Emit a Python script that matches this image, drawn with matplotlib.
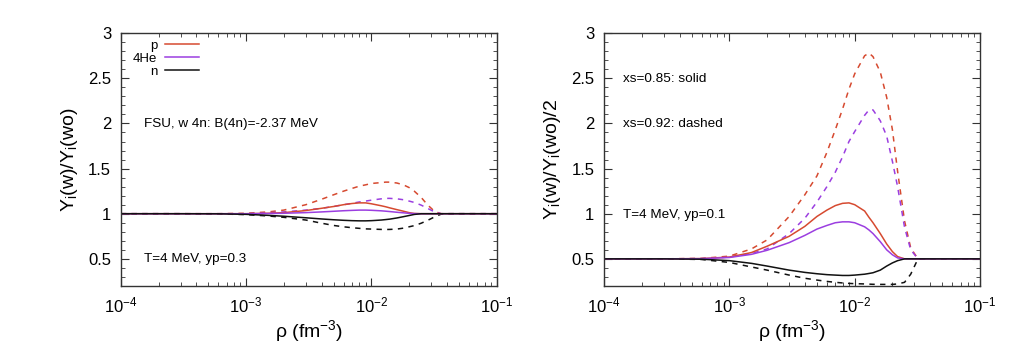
import matplotlib
matplotlib.use("Agg")
import matplotlib.pyplot as plt
from matplotlib.ticker import AutoMinorLocator, LogLocator, NullFormatter

plt.rcParams["font.family"] = ["Liberation Sans", "DejaVu Sans"]
plt.rcParams["mathtext.default"] = "regular"

# density grid (fm^-3)
rho = [1e-4, 3e-4, 6e-4, 1e-3, 1.5e-3, 2e-3, 3e-3, 4e-3, 5e-3, 6e-3, 7e-3,
       8e-3, 9e-3, 1e-2, 1.2e-2, 1.3e-2, 1.4e-2, 1.6e-2, 1.8e-2, 2e-2,
       2.2e-2, 2.5e-2, 2.8e-2, 3.2e-2, 3.6e-2, 4e-2, 5e-2, 1e-1]

# left panel: T=4 MeV, yp=0.3
left_p_solid = [1, 1, 1, 1.0, 1.005, 1.012, 1.035, 1.06, 1.08, 1.10, 1.113,
                1.12, 1.12, 1.11, 1.088, 1.077, 1.065, 1.045, 1.028, 1.012,
                1.003, 1, 1, 1, 1, 1, 1, 1]
left_he_solid = [1, 1, 1, 1.0, 1.002, 1.005, 1.012, 1.02, 1.027, 1.033, 1.037,
                 1.04, 1.04, 1.038, 1.032, 1.028, 1.024, 1.016, 1.01, 1.004,
                 1.001, 1, 1, 1, 1, 1, 1, 1]
left_n_solid = [1, 1, 0.999, 0.993, 0.982, 0.972, 0.955, 0.942, 0.933, 0.927,
                0.923, 0.921, 0.921, 0.923, 0.93, 0.935, 0.94, 0.953, 0.967,
                0.98, 0.992, 1, 1, 1, 1, 1, 1, 1]
left_p_dash = [1, 1, 1, 1.005, 1.02, 1.04, 1.10, 1.16, 1.21, 1.25, 1.28, 1.305,
               1.32, 1.335, 1.345, 1.35, 1.35, 1.34, 1.32, 1.29, 1.25, 1.18,
               1.10, 1.025, 1.0, 1, 1, 1]
left_he_dash = [1, 1, 1, 1.0, 1.01, 1.02, 1.04, 1.06, 1.08, 1.10, 1.115, 1.13,
                1.14, 1.15, 1.165, 1.17, 1.17, 1.165, 1.155, 1.14, 1.125,
                1.095, 1.06, 1.02, 1.0, 1, 1, 1]
left_n_dash = [1, 1, 0.998, 0.99, 0.975, 0.96, 0.93, 0.895, 0.87, 0.855, 0.845,
               0.838, 0.832, 0.83, 0.826, 0.825, 0.826, 0.83, 0.84, 0.855,
               0.868, 0.895, 0.925, 0.965, 0.995, 1, 1, 1]

# right panel: T=4 MeV, yp=0.1 (ratio / 2)
right_p_solid = [0.5, 0.5, 0.503, 0.52, 0.57, 0.64, 0.75, 0.86, 0.97, 1.04,
                 1.09, 1.115, 1.12, 1.10, 1.03, 0.96, 0.90, 0.78, 0.665, 0.58,
                 0.525, 0.5, 0.5, 0.5, 0.5, 0.5, 0.5, 0.5]
right_he_solid = [0.5, 0.5, 0.502, 0.515, 0.55, 0.595, 0.68, 0.76, 0.83, 0.87,
                  0.90, 0.91, 0.91, 0.90, 0.855, 0.82, 0.78, 0.69, 0.60, 0.545,
                  0.51, 0.5, 0.5, 0.5, 0.5, 0.5, 0.5, 0.5]
right_n_solid = [0.5, 0.5, 0.496, 0.48, 0.45, 0.42, 0.375, 0.35, 0.335, 0.325,
                 0.32, 0.316, 0.316, 0.32, 0.33, 0.338, 0.346, 0.375, 0.42,
                 0.455, 0.48, 0.5, 0.5, 0.5, 0.5, 0.5, 0.5, 0.5]
right_p_dash = [0.5, 0.5, 0.505, 0.53, 0.61, 0.71, 0.97, 1.21, 1.42, 1.68, 1.93,
                2.16, 2.38, 2.55, 2.75, 2.78, 2.74, 2.57, 2.29, 1.93, 1.47,
                0.92, 0.62, 0.5, 0.5, 0.5, 0.5, 0.5]
right_he_dash = [0.5, 0.5, 0.503, 0.52, 0.56, 0.61, 0.78, 0.95, 1.13, 1.30,
                 1.46, 1.63, 1.80, 1.91, 2.09, 2.15, 2.15, 2.03, 1.86, 1.58,
                 1.30, 0.85, 0.60, 0.5, 0.5, 0.5, 0.5, 0.5]
right_n_dash = [0.5, 0.5, 0.493, 0.46, 0.41, 0.375, 0.32, 0.285, 0.265, 0.25,
                0.24, 0.233, 0.228, 0.225, 0.222, 0.22, 0.218, 0.217, 0.217,
                0.217, 0.222, 0.24, 0.33, 0.5, 0.5, 0.5, 0.5, 0.5]

species = ["p", "4He", "n"]
colors = ["#d64a30", "#9b3ee0", "#111111"]

fig = plt.figure(figsize=(10.24, 3.53), dpi=100)
ax1 = fig.add_axes([0.118, 0.190, 0.367, 0.716])
ax2 = fig.add_axes([0.590, 0.190, 0.367, 0.716])

panels = [
    (ax1, [left_p_solid, left_he_solid, left_n_solid],
     [left_p_dash, left_he_dash, left_n_dash]),
    (ax2, [right_p_solid, right_he_solid, right_n_solid],
     [right_p_dash, right_he_dash, right_n_dash]),
]

for ax, solids, dashes in panels:
    for vals, c in zip(dashes, colors):
        ax.plot(rho, vals, color=c, lw=1.1, dashes=(3.5, 3.5))
    for vals, c, name in zip(solids, colors, species):
        ax.plot(rho, vals, color=c, lw=1.1, label=name)

    ax.set_xscale("log")
    ax.set_xlim(1e-4, 1e-1)
    ax.set_ylim(0.2, 3)
    ax.set_yticks([0.5, 1, 1.5, 2, 2.5, 3])
    ax.set_yticklabels(["0.5", "1", "1.5", "2", "2.5", "3"])
    ax.yaxis.set_minor_locator(AutoMinorLocator(5))
    ax.xaxis.set_minor_locator(LogLocator(base=10, subs=range(2, 10)))
    ax.xaxis.set_minor_formatter(NullFormatter())
    ax.tick_params(which="both", direction="in", top=True, right=True,
                   labelsize=12, color="#333333")
    ax.tick_params(which="major", length=6, width=0.8, pad=7)
    ax.tick_params(which="minor", length=3, width=0.6)
    for s in ax.spines.values():
        s.set_linewidth(1.0)
        s.set_color("#333333")
    ax.set_xlabel(r"ρ (fm$^{-3}$)", fontsize=14, labelpad=2)

ax1.set_ylabel(r"Y$_i$(w)/Y$_i$(wo)", fontsize=14, labelpad=6)
ax2.set_ylabel(r"Y$_i$(w)/Y$_i$(wo)/2", fontsize=14, labelpad=6)

ax1.legend(loc="upper left", markerfirst=False, frameon=False, fontsize=9.5,
           handlelength=2.6, handletextpad=0.6, labelspacing=0.05,
           borderaxespad=0.1, bbox_to_anchor=(0.014, 1.0))

ax1.text(0.062, 0.64, "FSU, w 4n: B(4n)=-2.37 MeV", transform=ax1.transAxes,
         fontsize=9.7, va="center")
ax1.text(0.062, 0.105, "T=4 MeV, yp=0.3", transform=ax1.transAxes,
         fontsize=9.7, va="center")
ax2.text(0.05, 0.82, "xs=0.85: solid", transform=ax2.transAxes,
         fontsize=9.7, va="center")
ax2.text(0.05, 0.64, "xs=0.92: dashed", transform=ax2.transAxes,
         fontsize=9.7, va="center")
ax2.text(0.05, 0.282, "T=4 MeV, yp=0.1", transform=ax2.transAxes,
         fontsize=9.7, va="center")

fig.savefig("out.png", dpi=100)
